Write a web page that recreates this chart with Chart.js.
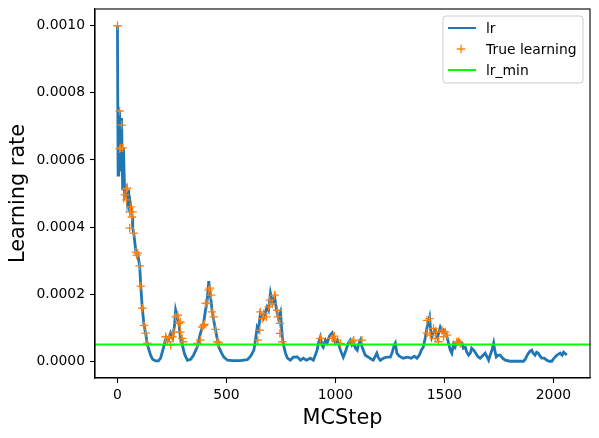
<!DOCTYPE html>
<html><head><meta charset="utf-8">
<script src="https://cdn.jsdelivr.net/npm/chart.js@4.4.0/dist/chart.umd.min.js"></script>
<style>html,body{margin:0;padding:0;background:#fff;overflow:hidden}#wrap{width:599px;height:438px}</style>
</head><body><div id="wrap"><canvas id="c" width="599" height="438"></canvas></div>
<script>
const seriesNames = ['lr', 'True learning', 'lr_min'];
const lrSteps = [0,3,6,8,10,12,15,19,21,24,28,33,41,45,51,56,60,68,70,75,84,93,102,107,114,122,129,138,152,161,175,188,198,212,224,235,244,253,262,267,276,283,289,298,308,321,336,349,366,381,395,404,412,419,424,429,434,440,450,465,478,488,505,528,564,596,611,626,633,641,647,656,670,686,693,702,712,721,730,739,748,756,762,771,780,793,807,825,840,853,867,885,899,916,922,931,938,944,954,962,973,985,991,1000,1009,1023,1036,1045,1053,1059,1068,1076,1083,1092,1100,1105,1115,1121,1128,1137,1152,1165,1174,1183,1190,1196,1206,1220,1234,1252,1261,1270,1275,1282,1293,1311,1330,1348,1362,1374,1385,1394,1403,1412,1420,1426,1432,1437,1442,1448,1458,1468,1474,1481,1490,1497,1504,1512,1519,1527,1534,1542,1549,1558,1565,1572,1580,1587,1596,1603,1611,1619,1625,1634,1641,1649,1655,1664,1673,1687,1694,1703,1710,1718,1726,1731,1738,1747,1756,1767,1779,1801,1834,1863,1871,1880,1886,1893,1901,1907,1916,1923,1931,1939,1946,1958,1970,1981,1993,1999,2008,2017,2024,2031,2040,2047,2053,2061];
const lrValues = [0.001,0.000555,0.00072,0.00057,0.000746,0.000585,0.00069,0.000725,0.00063,0.00051,
0.000636,0.000496,0.000513,0.00048,0.00051,0.000445,0.000466,0.00043,0.000397,0.00038,
0.00033,0.00032,0.000284,0.000224,0.000158,0.000107,0.000084,0.000048,0.000018,0.000006,
0.000001,0.000001,0.000009,0.000042,0.000072,0.000063,0.000084,0.000069,0.000107,0.000152,
0.000128,0.000107,0.000069,0.000048,0.000021,0.000003,0.000006,0.000018,0.000042,0.000084,
0.000113,0.000152,0.000182,0.000239,0.000206,0.000182,0.000152,0.000128,0.000093,0.000042,
0.000024,0.000012,0.000003,0.0000015,0.0000015,0.0000045,0.000015,0.000033,0.000063,0.000101,
0.000093,0.000143,0.000128,0.000161,0.000152,0.000203,0.000173,0.000191,0.000152,0.000128,
0.000146,0.000072,0.000048,0.000024,0.000009,0.000003,0.000012,0.000013,0.000003,0.000009,
0.000003,0.000009,0.000003,0.000033,0.000054,0.000072,0.000048,0.000042,0.000063,0.000054,
0.000075,0.000084,0.000069,0.000054,0.000063,0.000033,0.000012,0.000027,0.000042,0.000054,
0.000063,0.000048,0.000054,0.000039,0.000033,0.000048,0.000063,0.000045,0.000033,0.000018,
0.000012,0.000006,0.000003,0.000015,0.000024,0.000012,0.000003,0.000009,0.000012,0.000012,
0.000027,0.000048,0.000054,0.000024,0.000015,0.000009,0.000012,0.000009,0.000015,0.000009,
0.000018,0.000033,0.000042,0.000069,0.000099,0.000116,0.000131,0.000093,0.000072,0.000084,
0.000093,0.000072,0.000084,0.000101,0.000087,0.000093,0.000087,0.000072,0.000054,0.000033,
0.000024,0.000051,0.000042,0.000057,0.000063,0.000054,0.000054,0.000039,0.000042,0.000027,
0.000018,0.000024,0.000039,0.000033,0.000027,0.000018,0.000013,0.000009,0.000015,0.000024,
0.000015,0.000003,0.000018,0.000033,0.000054,0.000033,0.000013,0.000018,0.000018,0.000009,
0.000003,0,0,0,0.000006,0.000018,0.000024,0.00003,0.000033,0.000024,
0.000018,0.000027,0.000024,0.000015,0.000009,0.000009,0.000003,0,0,0.000006,
0.000013,0.000018,0.000021,0.000024,0.000018,0.000027,0.000024,0.000018];
const trueSteps = [0,10,19,10,15,24,41,45,34,41,60,69,56,66,56,75,84,93,88,102,107,114,122,129,137,
221,229,236,244,252,259,267,277,282,289,289,297,302,
366,381,389,396,399,404,412,419,424,430,434,442,450,458,465,
644,653,656,664,671,683,694,699,710,721,733,736,745,745,756,
931,985,1000,995,1023,1077,1084,1122,
1420,1432,1420,1435,1450,1458,1473,1489,1504,1512,1496,1463,1557,1565,1572];
const trueValues = [0.001,0.000746,0.000704,0.000633,0.000636,0.000636,0.000513,0.000516,0.000496,0.000481,0.00046,0.000445,0.000445,0.00043,0.000397,0.000382,0.000325,0.000322,0.000316,0.000284,0.000224,0.000158,0.000107,0.000084,0.000054,
0.000073,0.000058,0.000069,0.000048,0.000073,0.000087,0.000132,0.000137,0.000113,0.000117,0.000087,0.000068,0.000058,
0.000053,0.000063,0.000102,0.000107,0.00011,0.000173,0.000172,0.000212,0.000218,0.000197,0.000147,0.000132,0.000095,0.000058,0.000055,
0.000063,0.000093,0.000147,0.000127,0.000142,0.000132,0.000162,0.000182,0.000172,0.000197,0.000152,0.000132,0.000113,0.000083,0.000058,
0.000068,0.000068,0.000063,0.000075,0.000053,0.000058,0.000063,0.000063,
0.000122,0.000127,0.000084,0.000078,0.000098,0.000068,0.000058,0.000093,0.000087,0.000078,0.000073,0.000087,0.000058,0.000058,0.000053];
const lrMin = [0.00005];
const xTicks = [0, 500, 1000, 1500, 2000];
const yTicks = [0, 0.0002, 0.0004, 0.0006, 0.0008, 0.0010];
const xRange = [-103, 2168];
const yRange = [-0.00005, 0.00105];

const FONT = 'DejaVu Sans';
Chart.defaults.font.family = FONT;
Chart.defaults.color = '#000';

const lrData = lrSteps.map((x, i) => ({x, y: lrValues[i]}));
const trueData = trueSteps.map((x, i) => ({x, y: trueValues[i]}));
const minData = xRange.map(x => ({x, y: lrMin[0]}));

const frameAndLegend = {
  id: 'frameAndLegend',
  afterDatasetsDraw(chart) {
    const ctx = chart.ctx, a = chart.chartArea;
    ctx.save();
    ctx.strokeStyle = '#000';
    ctx.lineWidth = 1.1;
    ctx.strokeRect(a.left, a.top, a.right - a.left, a.bottom - a.top);
    const bx = 443, by = 16, bw = 140, bh = 67, r = 3;
    ctx.beginPath();
    ctx.moveTo(bx + r, by);
    ctx.arcTo(bx + bw, by, bx + bw, by + bh, r);
    ctx.arcTo(bx + bw, by + bh, bx, by + bh, r);
    ctx.arcTo(bx, by + bh, bx, by, r);
    ctx.arcTo(bx, by, bx + bw, by, r);
    ctx.closePath();
    ctx.fillStyle = 'rgba(255,255,255,0.8)';
    ctx.fill();
    ctx.strokeStyle = '#cccccc';
    ctx.lineWidth = 1;
    ctx.stroke();
    const rows = [28, 49, 70];
    const ds = chart.data.datasets;
    ctx.font = '13.9px ' + FONT;
    ctx.textBaseline = 'middle';
    ds.forEach((d, i) => {
      const y = rows[i];
      ctx.strokeStyle = d.borderColor;
      ctx.beginPath();
      if (d.showLine === false) {
        ctx.lineWidth = 1.3;
        ctx.moveTo(461 - 4.2, y); ctx.lineTo(461 + 4.2, y);
        ctx.moveTo(461, y - 4.2); ctx.lineTo(461, y + 4.2);
      } else {
        ctx.lineWidth = 2;
        ctx.moveTo(448, y); ctx.lineTo(476, y);
      }
      ctx.stroke();
      ctx.fillStyle = '#000';
      ctx.fillText(d.label, 486, y + 1);
    });
    ctx.restore();
  }
};

new Chart(document.getElementById('c'), {
  type: 'scatter',
  data: {
    datasets: [
      {label: seriesNames[0], data: lrData, showLine: true, borderColor: '#1f77b4', backgroundColor: '#1f77b4', borderWidth: 2.8, pointRadius: 0, tension: 0, order: 3},
      {label: seriesNames[1], data: trueData, showLine: false, borderColor: '#ff7f0e', backgroundColor: '#ff7f0e', pointStyle: 'cross', pointRadius: 4.2, pointBorderWidth: 1.3, borderWidth: 1.3, order: 2},
      {label: seriesNames[2], data: minData, showLine: true, borderColor: '#00ff00', backgroundColor: '#00ff00', borderWidth: 2, pointRadius: 0, order: 1}
    ]
  },
  options: {
    responsive: false,
    animation: false,
    devicePixelRatio: 1,
    layout: {padding: {left: 0, right: 9, top: 9, bottom: 0}},
    plugins: {legend: {display: false}, tooltip: {enabled: false}},
    scales: {
      x: {
        type: 'linear', min: xRange[0], max: xRange[1],
        afterBuildTicks: s => { s.ticks = xTicks.map(v => ({value: v})); },
        afterFit: s => { s.height = 60; s.paddingLeft = 0; s.paddingRight = 0; },
        ticks: {font: {size: 13.9}, color: '#000', padding: 4, maxRotation: 0, callback: v => String(v)},
        grid: {drawOnChartArea: false, drawTicks: true, tickLength: 5, tickColor: '#000', tickWidth: 1.1},
        border: {display: true, color: '#000', width: 1.1},
        title: {display: true, text: 'MCStep', font: {size: 20.8}, color: '#000', padding: {top: 0, bottom: 7}}
      },
      y: {
        type: 'linear', min: yRange[0], max: yRange[1],
        afterBuildTicks: s => { s.ticks = yTicks.map(v => ({value: v})); },
        afterFit: s => { s.width = 95; s.paddingTop = 0; s.paddingBottom = 0; },
        ticks: {font: {size: 13.9}, color: '#000', padding: 5, callback: v => Number(v).toFixed(4)},
        grid: {drawOnChartArea: false, drawTicks: true, tickLength: 5, tickColor: '#000', tickWidth: 1.1},
        border: {display: true, color: '#000', width: 1.1},
        title: {display: true, text: 'Learning rate', font: {size: 20.8}, color: '#000', padding: {top: 6, bottom: 0}}
      }
    }
  },
  plugins: [frameAndLegend]
});
</script></body></html>
